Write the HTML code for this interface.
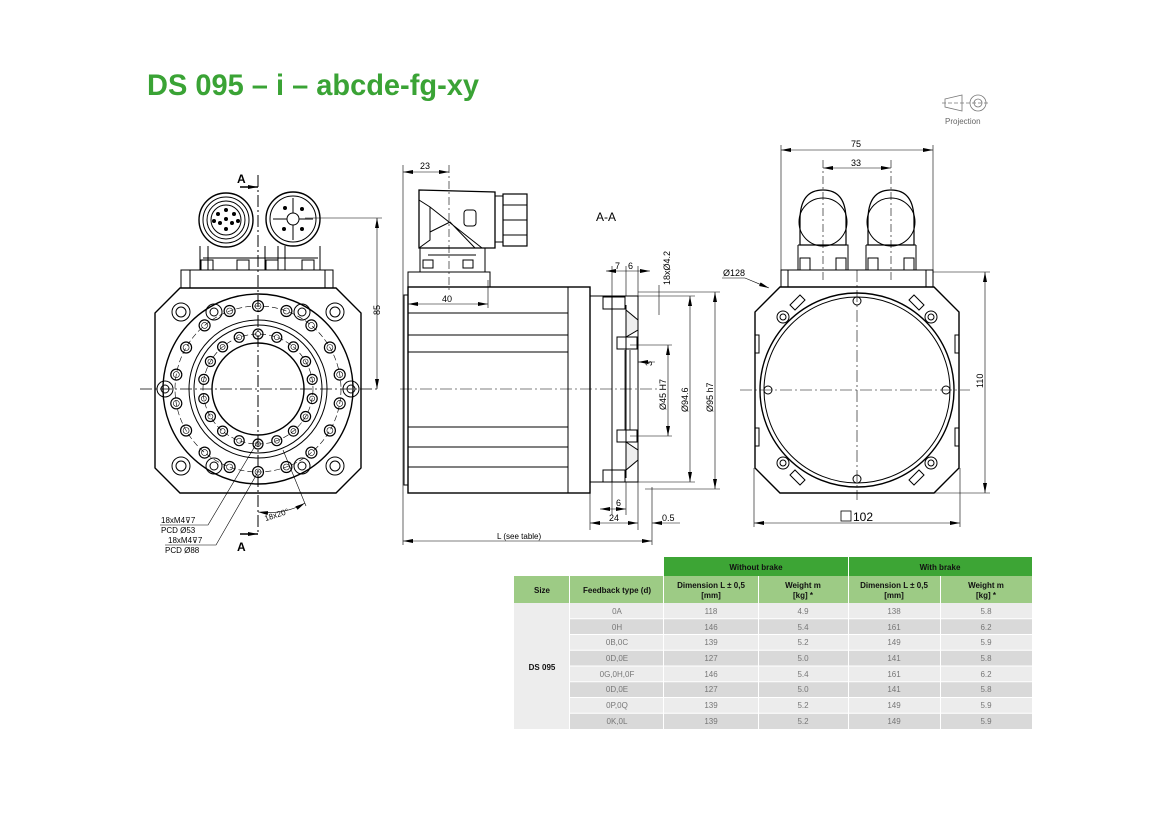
<!DOCTYPE html>
<html><head><meta charset="utf-8"><style>
html,body{margin:0;padding:0;background:#fff;}
body{width:1170px;height:827px;position:relative;overflow:hidden;font-family:"Liberation Sans",sans-serif;}
svg{position:absolute;left:0;top:0;}
.t{font-family:"Liberation Sans",sans-serif;}
</style></head><body>
<svg width="1170" height="827" viewBox="0 0 1170 827" xmlns="http://www.w3.org/2000/svg">
<defs>
<marker id="ar" viewBox="0 0 10 4" refX="10" refY="2" markerWidth="10" markerHeight="4" orient="auto-start-reverse" markerUnits="userSpaceOnUse"><path d="M0,0L10,2L0,4z" fill="#000"/></marker>
</defs>
<text x="147" y="95" font-size="30" font-weight="bold" fill="#3aa335" textLength="332" lengthAdjust="spacingAndGlyphs" class="t">DS 095 – i – abcde-fg-xy</text>

<!-- projection -->
<g stroke="#777" stroke-width="0.8" fill="none">
<path d="M945,99 L962,95 L962,111 L945,107 Z"/>
<circle cx="978" cy="103" r="8"/><circle cx="978" cy="103" r="4"/>
<line x1="942" y1="103" x2="990" y2="103" stroke-dasharray="4,2"/>
</g>
<text x="945" y="124" font-size="8" fill="#666" class="t">Projection</text>

<g stroke="#000" fill="none" stroke-width="1">
<!-- ============ LEFT VIEW ============ -->
<path d="M180,288 H336 L361,313 V468 L336,493 H180 L155,468 V313 Z" stroke-width="1.4"/>
<rect x="181" y="270" width="152" height="18"/>
<line x1="190" y1="270" x2="190" y2="288"/><line x1="325" y1="270" x2="325" y2="288"/>
<!-- connectors -->
<path d="M200,246 V270 M285,246 V270 M203,258 H282 M208,246 V270 M278,246 V270" />
<rect x="201" y="260" width="12" height="10"/><rect x="237" y="260" width="12" height="10"/>
<path d="M265,246 V270 M320,246 V270 M268,258 H318"/>
<rect x="266" y="260" width="12" height="10"/><rect x="302" y="260" width="12" height="10"/>
<circle cx="226" cy="220" r="27" stroke-width="1.4"/><circle cx="226" cy="220" r="23"/><circle cx="226" cy="220" r="19"/><circle cx="226" cy="220" r="15"/>
<circle cx="293" cy="219" r="27" stroke-width="1.4"/><circle cx="293" cy="219" r="23"/><circle cx="293" cy="219" r="6"/>
<path d="M293,213 V198 M299,219 H313 M293,225 V240 M287,219 H273"/>
<g fill="#000" stroke="none">
<circle cx="226" cy="210" r="2"/><circle cx="218" cy="214" r="2"/><circle cx="234" cy="214" r="2"/><circle cx="220" cy="223" r="2"/><circle cx="232" cy="223" r="2"/><circle cx="226" cy="229" r="2"/><circle cx="226" cy="219" r="2"/><circle cx="214" cy="221" r="2"/><circle cx="238" cy="221" r="2"/>
<circle cx="285" cy="208" r="2"/><circle cx="302" cy="209" r="2"/><circle cx="284" cy="229" r="2"/><circle cx="302" cy="229" r="2"/>
</g>
<!-- flange circles -->
<circle cx="258" cy="389" r="95" stroke-width="1.4"/>
<circle cx="258" cy="389" r="69"/><circle cx="258" cy="389" r="64"/>
<circle cx="258" cy="389" r="46" stroke-width="1.4"/>
<circle cx="258" cy="389" r="83" stroke-dasharray="6,3" stroke-width="0.6"/>
<circle cx="258" cy="389" r="55" stroke-dasharray="6,3" stroke-width="0.6"/>
<g id="holes"></g>
<!-- corner holes -->
<circle cx="181" cy="312" r="9"/><circle cx="181" cy="312" r="5"/>
<circle cx="335" cy="312" r="9"/><circle cx="335" cy="312" r="5"/>
<circle cx="181" cy="466" r="9"/><circle cx="181" cy="466" r="5"/>
<circle cx="335" cy="466" r="9"/><circle cx="335" cy="466" r="5"/>
<!-- center lines -->
<line x1="140" y1="389" x2="378" y2="389" stroke-width="0.7" stroke-dasharray="12,3,2,3"/>
<line x1="258" y1="175" x2="258" y2="535" stroke-width="1" stroke-dasharray="12,3,2,3"/>
<!-- dim 85 -->
<line x1="305" y1="218" x2="382" y2="218" stroke-width="0.6"/>
<line x1="377" y1="218" x2="377" y2="389" stroke-width="0.6" marker-start="url(#ar)" marker-end="url(#ar)"/>
<!-- section arrows -->
<path d="M240,187 H258" marker-end="url(#ar)" stroke-width="1.5"/>
<path d="M240,534 H258" marker-end="url(#ar)" stroke-width="1.5"/>
<!-- leaders -->
<path d="M160,525 H208 L258,441" stroke-width="0.6"/>
<path d="M165,545 H216 L258,472" stroke-width="0.6"/>
<path d="M258,512 Q285,515 305,503" stroke-width="0.6" marker-start="url(#ar)" marker-end="url(#ar)"/>
<line x1="283" y1="450" x2="306" y2="506" stroke-width="0.6"/>

<!-- ============ MIDDLE VIEW ============ -->
<rect x="408" y="287" width="182" height="206" stroke-width="1.4"/>
<line x1="568" y1="287" x2="568" y2="493"/>
<path d="M408,295 H404 V485 H408"/>
<path d="M408,313 H568 M408,335 H568 M408,352 H568 M408,427 H568 M408,447 H568 M408,467 H568"/>
<!-- connector body -->
<rect x="408" y="272" width="82" height="15"/>
<path d="M420,248 V272 M485,248 V272 M428,255 H476"/>
<rect x="423" y="260" width="10" height="8"/><rect x="463" y="260" width="10" height="8"/>
<path d="M419,190 L495,192 L495,248 L419,248 Z" stroke-width="1.3"/>
<path d="M419,200 L430,207 L430,240 L419,248 M430,207 L482,248 M430,232 L450,222 L475,248"/>
<rect x="464" y="210" width="12" height="16" rx="3"/>
<rect x="495" y="196" width="8" height="46"/>
<rect x="503" y="194" width="24" height="52" stroke-width="1.2"/>
<path d="M503,205 H527 M503,220 H527 M503,235 H527"/>
<line x1="449" y1="165" x2="449" y2="290" stroke-width="0.6" stroke-dasharray="8,3,2,3"/>
<!-- flange -->
<path d="M590,296 H638 V482 H590"/>
<line x1="612" y1="296" x2="612" y2="482"/>
<line x1="626" y1="305" x2="626" y2="478"/>
<rect x="603" y="297" width="22" height="12"/><rect x="603" y="470" width="22" height="12"/>
<rect x="617" y="337" width="20" height="12"/><rect x="617" y="430" width="20" height="12"/>
<path d="M625,350 V430 M630,350 V430" stroke-width="0.8"/>
<path d="M626,310 L638,320 L638,330 L626,337 Z M626,442 L638,450 L638,460 L626,470 Z" fill="#eee"/>
<line x1="400" y1="389" x2="660" y2="389" stroke-width="0.6" stroke-dasharray="12,3,2,3"/>
<!-- dims middle -->
<line x1="403" y1="165" x2="403" y2="545" stroke-width="0.6"/>
<line x1="403" y1="172" x2="449" y2="172" stroke-width="0.6" marker-start="url(#ar)" marker-end="url(#ar)"/>
<line x1="488" y1="280" x2="488" y2="308" stroke-width="0.6"/>
<line x1="408" y1="304" x2="488" y2="304" stroke-width="0.6" marker-start="url(#ar)" marker-end="url(#ar)"/>
<line x1="403" y1="541" x2="652" y2="541" stroke-width="0.6" marker-start="url(#ar)" marker-end="url(#ar)"/>
<line x1="652" y1="487" x2="652" y2="545" stroke-width="0.6"/>
<line x1="638" y1="482" x2="638" y2="530" stroke-width="0.6"/>
<line x1="590" y1="493" x2="590" y2="530" stroke-width="0.6"/>
<line x1="590" y1="523" x2="638" y2="523" stroke-width="0.6" marker-start="url(#ar)" marker-end="url(#ar)"/>
<line x1="612" y1="482" x2="612" y2="515" stroke-width="0.6"/><line x1="626" y1="482" x2="626" y2="515" stroke-width="0.6"/>
<line x1="600" y1="509" x2="626" y2="509" stroke-width="0.6" marker-start="url(#ar)" marker-end="url(#ar)"/>
<line x1="652" y1="523" x2="680" y2="523" stroke-width="0.6" marker-start="url(#ar)"/>
<line x1="606" y1="271" x2="650" y2="271" stroke-width="0.6" marker-start="url(#ar)" marker-end="url(#ar)"/>
<line x1="612" y1="266" x2="612" y2="296" stroke-width="0.6"/><line x1="626" y1="266" x2="626" y2="296" stroke-width="0.6"/><line x1="638" y1="266" x2="638" y2="296" stroke-width="0.6"/>
<line x1="659" y1="285" x2="659" y2="315" stroke-width="0.6"/>
<line x1="638" y1="292" x2="720" y2="292" stroke-width="0.6"/>
<line x1="638" y1="296" x2="695" y2="296" stroke-width="0.6"/>
<line x1="638" y1="482" x2="695" y2="482" stroke-width="0.6"/>
<line x1="645" y1="489" x2="720" y2="489" stroke-width="0.6"/>
<line x1="630" y1="345" x2="672" y2="345" stroke-width="0.6"/><line x1="630" y1="436" x2="672" y2="436" stroke-width="0.6"/>
<line x1="668" y1="345" x2="668" y2="436" stroke-width="0.6" marker-start="url(#ar)" marker-end="url(#ar)"/>
<line x1="690" y1="296" x2="690" y2="482" stroke-width="0.6" marker-start="url(#ar)" marker-end="url(#ar)"/>
<line x1="715" y1="292" x2="715" y2="489" stroke-width="0.6" marker-start="url(#ar)" marker-end="url(#ar)"/>
<line x1="638" y1="362" x2="655" y2="362" stroke-width="0.6" marker-start="url(#ar)"/>

<!-- ============ RIGHT VIEW ============ -->
<path d="M780,287 H934 L959,312 V468 L934,493 H780 L755,468 V312 Z" stroke-width="1.4"/>
<rect x="781" y="270" width="152" height="17"/>
<line x1="788" y1="270" x2="788" y2="287"/><line x1="926" y1="270" x2="926" y2="287"/>
<circle cx="857" cy="390" r="97" stroke-width="1.4"/>
<circle cx="857" cy="390" r="93"/>
<circle cx="857" cy="301" r="4"/><circle cx="857" cy="479" r="4"/><circle cx="768" cy="390" r="4"/><circle cx="946" cy="390" r="4"/>
<circle cx="783" cy="317" r="6"/><circle cx="783" cy="317" r="3"/>
<circle cx="931" cy="317" r="6"/><circle cx="931" cy="317" r="3"/>
<circle cx="783" cy="463" r="6"/><circle cx="783" cy="463" r="3"/>
<circle cx="931" cy="463" r="6"/><circle cx="931" cy="463" r="3"/>
<rect x="755" y="335" width="4" height="18"/><rect x="955" y="335" width="4" height="18"/>
<rect x="755" y="428" width="4" height="18"/><rect x="955" y="428" width="4" height="18"/>
<path d="M790,305 L800,295 L805,300 L795,310 Z M924,305 L914,295 L909,300 L919,310 Z M790,475 L800,485 L805,480 L795,470 Z M924,475 L914,485 L909,480 L919,470 Z"/>
<!-- domes -->
<path d="M800,245 V220 Q800,190 823,190 Q846,190 846,220 V245 Z" stroke-width="1.2"/>
<path d="M868,245 V220 Q868,190 891,190 Q914,190 914,220 V245 Z" stroke-width="1.2"/>
<circle cx="823" cy="222" r="24"/><circle cx="891" cy="222" r="24"/>
<path d="M798,245 H848 V252 M798,245 V270 M848,252 V270 M866,245 H916 M866,245 V270 M916,245 V270"/>
<rect x="800" y="258" width="10" height="12"/><rect x="836" y="258" width="10" height="12"/>
<rect x="868" y="258" width="10" height="12"/><rect x="904" y="258" width="10" height="12"/>
<line x1="740" y1="390" x2="970" y2="390" stroke-width="0.6" stroke-dasharray="12,3,2,3"/>
<line x1="857" y1="270" x2="857" y2="500" stroke-width="0.6" stroke-dasharray="12,3,2,3"/>
<line x1="823" y1="160" x2="823" y2="280" stroke-width="0.6" stroke-dasharray="8,3,2,3"/>
<line x1="891" y1="160" x2="891" y2="280" stroke-width="0.6" stroke-dasharray="8,3,2,3"/>
<!-- dims right -->
<line x1="781" y1="145" x2="781" y2="270" stroke-width="0.6"/><line x1="933" y1="145" x2="933" y2="270" stroke-width="0.6"/>
<line x1="781" y1="150" x2="933" y2="150" stroke-width="0.6" marker-start="url(#ar)" marker-end="url(#ar)"/>
<line x1="823" y1="168" x2="891" y2="168" stroke-width="0.6" marker-start="url(#ar)" marker-end="url(#ar)"/>
<line x1="933" y1="272" x2="990" y2="272" stroke-width="0.6"/><line x1="934" y1="493" x2="990" y2="493" stroke-width="0.6"/>
<line x1="985" y1="272" x2="985" y2="493" stroke-width="0.6" marker-start="url(#ar)" marker-end="url(#ar)"/>
<line x1="754" y1="468" x2="754" y2="527" stroke-width="0.6"/><line x1="960" y1="468" x2="960" y2="527" stroke-width="0.6"/>
<line x1="754" y1="523" x2="960" y2="523" stroke-width="0.6" marker-start="url(#ar)" marker-end="url(#ar)"/>
<path d="M722,278 H745 L769,288" stroke-width="0.6" marker-end="url(#ar)"/>
<rect x="841" y="511" width="10" height="10" stroke-width="0.8"/>
</g>
<g font-size="9" fill="#000" class="t">
<text x="365" y="310" transform="rotate(-90 375 305)" font-size="9">85</text>
<text x="237" y="183" font-size="12" font-weight="bold">A</text>
<text x="237" y="551" font-size="12" font-weight="bold">A</text>
<text x="161" y="523" font-size="8">18xM4⊽7</text>
<text x="161" y="533" font-size="8">PCD  Ø53</text>
<text x="168" y="543" font-size="8">18xM4⊽7</text>
<text x="165" y="553" font-size="8">PCD  Ø88</text>
<text x="264" y="518" font-size="8" transform="rotate(-18 275 515)">18x20°</text>
<text x="420" y="169">23</text>
<text x="442" y="302">40</text>
<text x="497" y="539" font-size="8">L (see table)</text>
<text x="609" y="521">24</text>
<text x="616" y="506">6</text>
<text x="662" y="521">0.5</text>
<text x="615" y="269">7</text><text x="628" y="269">6</text>
<text x="596" y="221" font-size="12">A-A</text>
<text x="0" y="0" transform="translate(670,285) rotate(-90)">18xØ4.2</text>
<text x="0" y="0" transform="translate(666,410) rotate(-90)">Ø45 H7</text>
<text x="0" y="0" transform="translate(688,412) rotate(-90)">Ø94.6</text>
<text x="0" y="0" transform="translate(713,412) rotate(-90)">Ø95 h7</text>
<text x="0" y="0" transform="translate(652,366) rotate(-90)">3</text>
<text x="851" y="147">75</text>
<text x="851" y="166">33</text>
<text x="0" y="0" transform="translate(983,388) rotate(-90)">110</text>
<text x="723" y="276">Ø128</text>
<text x="853" y="521" font-size="12">102</text>
</g>

<!-- ============ TABLE ============ -->
<g class="t" font-size="8" text-anchor="middle">
<rect x="664" y="557" width="368" height="19" fill="#3da535"/>
<line x1="848.5" y1="557" x2="848.5" y2="576" stroke="#fff"/>
<text x="756" y="570" font-weight="bold" fill="#111">Without brake</text>
<text x="940" y="570" font-weight="bold" fill="#111">With brake</text>
<rect x="514" y="576" width="518" height="27" fill="#9dcb85"/>
<g stroke="#fff" stroke-width="1">
<line x1="569.5" y1="576" x2="569.5" y2="729"/><line x1="663.5" y1="576" x2="663.5" y2="729"/>
<line x1="758.5" y1="576" x2="758.5" y2="729"/><line x1="848.5" y1="576" x2="848.5" y2="729"/><line x1="940.5" y1="576" x2="940.5" y2="729"/>
</g>
<g font-weight="bold" fill="#111">
<text x="542" y="593">Size</text>
<text x="617" y="593">Feedback type (d)</text>
<text x="711" y="588">Dimension L ± 0,5</text><text x="711" y="598">[mm]</text>
<text x="803" y="588">Weight m</text><text x="803" y="598">[kg] *</text>
<text x="894" y="588">Dimension L ± 0,5</text><text x="894" y="598">[mm]</text>
<text x="986" y="588">Weight m</text><text x="986" y="598">[kg] *</text>
</g>
<rect x="514" y="603" width="55" height="126" fill="#ededed"/>
<text x="542" y="670" font-weight="bold" fill="#111">DS 095</text>
<g fill="#666">
<rect x="570" y="603" width="462" height="15.75" fill="#ececec"/>
<rect x="570" y="618.75" width="462" height="15.75" fill="#d9d9d9"/>
<rect x="570" y="634.5" width="462" height="15.75" fill="#ececec"/>
<rect x="570" y="650.25" width="462" height="15.75" fill="#d9d9d9"/>
<rect x="570" y="666" width="462" height="15.75" fill="#ececec"/>
<rect x="570" y="681.75" width="462" height="15.75" fill="#d9d9d9"/>
<rect x="570" y="697.5" width="462" height="15.75" fill="#ececec"/>
<rect x="570" y="713.25" width="462" height="15.75" fill="#d9d9d9"/>
</g>
<g stroke="#fff" stroke-width="1">
<line x1="570" y1="618.75" x2="1032" y2="618.75"/><line x1="570" y1="634.5" x2="1032" y2="634.5"/><line x1="570" y1="650.25" x2="1032" y2="650.25"/><line x1="570" y1="666" x2="1032" y2="666"/><line x1="570" y1="681.75" x2="1032" y2="681.75"/><line x1="570" y1="697.5" x2="1032" y2="697.5"/><line x1="570" y1="713.25" x2="1032" y2="713.25"/>
<line x1="569.5" y1="603" x2="569.5" y2="729"/><line x1="663.5" y1="603" x2="663.5" y2="729"/><line x1="758.5" y1="603" x2="758.5" y2="729"/><line x1="848.5" y1="603" x2="848.5" y2="729"/><line x1="940.5" y1="603" x2="940.5" y2="729"/>
</g>
<g fill="#777">
<text x="617" y="614">0A</text><text x="711" y="614">118</text><text x="803" y="614">4.9</text><text x="894" y="614">138</text><text x="986" y="614">5.8</text>
<text x="617" y="630">0H</text><text x="711" y="630">146</text><text x="803" y="630">5.4</text><text x="894" y="630">161</text><text x="986" y="630">6.2</text>
<text x="617" y="645">0B,0C</text><text x="711" y="645">139</text><text x="803" y="645">5.2</text><text x="894" y="645">149</text><text x="986" y="645">5.9</text>
<text x="617" y="661">0D,0E</text><text x="711" y="661">127</text><text x="803" y="661">5.0</text><text x="894" y="661">141</text><text x="986" y="661">5.8</text>
<text x="617" y="677">0G,0H,0F</text><text x="711" y="677">146</text><text x="803" y="677">5.4</text><text x="894" y="677">161</text><text x="986" y="677">6.2</text>
<text x="617" y="692">0D,0E</text><text x="711" y="692">127</text><text x="803" y="692">5.0</text><text x="894" y="692">141</text><text x="986" y="692">5.8</text>
<text x="617" y="708">0P,0Q</text><text x="711" y="708">139</text><text x="803" y="708">5.2</text><text x="894" y="708">149</text><text x="986" y="708">5.9</text>
<text x="617" y="724">0K,0L</text><text x="711" y="724">139</text><text x="803" y="724">5.2</text><text x="894" y="724">149</text><text x="986" y="724">5.9</text>
</g>
</g>
</svg>
<script>
(function(){
var g=document.getElementById('holes'),ns='http://www.w3.org/2000/svg',h='';
for(var i=0;i<18;i++){var a=(i*20-90)*Math.PI/180;
[[83,5.5,3],[55,5,2.5]].forEach(function(p){
var x=258+p[0]*Math.cos(a),y=389+p[0]*Math.sin(a);
h+='<circle cx="'+x.toFixed(1)+'" cy="'+y.toFixed(1)+'" r="'+p[1]+'" stroke-width="1.2"/>';
h+='<circle cx="'+x.toFixed(1)+'" cy="'+y.toFixed(1)+'" r="'+p[2]+'" stroke-width="0.6"/>';});}
[[165,389],[351,389],[214,466],[302,466],[214,312],[302,312]].forEach(function(c){h+='<circle cx="'+c[0]+'" cy="'+c[1]+'" r="8"/><circle cx="'+c[0]+'" cy="'+c[1]+'" r="4"/>';});
g.innerHTML=h;})();
</script>
</body></html>
